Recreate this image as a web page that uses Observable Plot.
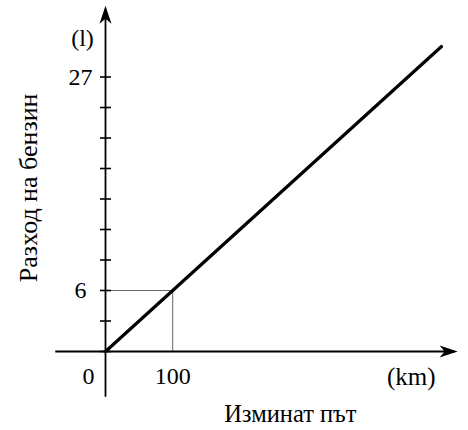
<!DOCTYPE html>
<html>
<head>
<meta charset="utf-8">
<script src="https://cdn.jsdelivr.net/npm/d3@7"></script>
<script src="https://cdn.jsdelivr.net/npm/@observablehq/plot@0.6"></script>
<style>
  html, body { margin: 0; padding: 0; background: #fff; }
  #chart svg { display: block; }
</style>
</head>
<body>
<div id="chart"></div>
<script>
// Data
const distanceKm = [0, 100, 500];
const fuelLitres = [0, 6, 30];
const yTicks = [0, 3, 6, 9, 12, 15, 18, 21, 24, 27];
const yTickLabels = [6, 27];
const xTickLabels = [100];
const originLabel = ["0"];
const guidePoint = {x: 100, y: 6};
const xUnit = "(km)";
const yUnit = "(l)";
const xTitle = "Изминат път";
const yTitle = "Разход на бензин";

const lineData = distanceKm.map((d, i) => ({x: d, y: fuelLitres[i]}));

const font = "'Liberation Serif', 'Times New Roman', serif";

// arrowhead pointing up, tip at origin
const arrowHead = {
  draw(context) {
    context.moveTo(0, 0);
    context.lineTo(6, 18);
    context.lineTo(0, 13);
    context.lineTo(-6, 18);
    context.closePath();
  }
};
const hTick = {
  draw(context) {
    context.moveTo(-5.5, 0);
    context.lineTo(5.5, 0);
  }
};

const txt = {fontFamily: font, fill: "#000"};

const chart = Plot.plot({
  width: 468,
  height: 430,
  marginLeft: 105,
  marginRight: 27,
  marginTop: 46,
  marginBottom: 79,
  x: {domain: [0, 500], axis: null},
  y: {domain: [0, 30], axis: null},
  style: {fontFamily: font, background: "#fff"},
  marks: [
    // guide lines
    Plot.ruleY([guidePoint], {y: "y", x1: 0, x2: "x", stroke: "#666", strokeWidth: 1}),
    Plot.ruleX([guidePoint], {x: "x", y1: 0, y2: "y", stroke: "#666", strokeWidth: 1}),
    // axes
    Plot.ruleY([0], {x1: -74, x2: 520, stroke: "#000", strokeWidth: 1.8}),
    Plot.ruleX([0], {y1: -4.5, y2: 33.6, stroke: "#000", strokeWidth: 1.8}),
    Plot.dot([0], {x: 524, y: 0, symbol: arrowHead, fill: "#000", stroke: "none", rotate: 90}),
    Plot.dot([0], {x: 0, y: 34, symbol: arrowHead, fill: "#000", stroke: "none"}),
    Plot.dot(yTicks, {x: 0, y: d => d, symbol: hTick, stroke: "#000", strokeWidth: 1.6, fill: "none"}),
    // main line
    Plot.line(lineData, {x: "x", y: "y", stroke: "#000", strokeWidth: 3.2}),
    // tick labels
    Plot.text(yTickLabels, {x: 0, y: d => d, text: d => String(d), dx: -25, fontSize: 24, ...txt}),
    Plot.text(xTickLabels, {x: d => d, y: 0, text: d => String(d), dy: 25, fontSize: 24, ...txt}),
    Plot.text(originLabel, {x: 0, y: 0, text: d => d, dy: 25, dx: -17, fontSize: 24, ...txt}),
    // units
    Plot.text([yUnit], {x: 0, y: 30.8, text: d => d, dx: -23, fontSize: 24, ...txt}),
    Plot.text([xUnit], {x: 455, y: 0, text: d => d, dy: 25, fontSize: 25, ...txt}),
    // titles
    Plot.text([xTitle], {x: 275, y: 0, text: d => d, dy: 63, fontSize: 24.5, ...txt}),
    Plot.text([yTitle], {x: 0, y: 16.1, text: d => d, dx: -77, rotate: -90, fontSize: 26, ...txt})
  ]
});

document.getElementById("chart").appendChild(chart);
</script>
</body>
</html>
